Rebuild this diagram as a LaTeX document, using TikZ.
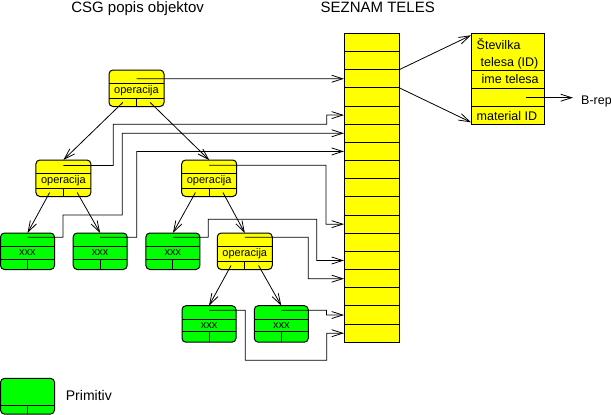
\documentclass[tikz,border=0pt]{standalone}
\usepackage{fontspec}
\setmainfont{Liberation Sans}
\usetikzlibrary{arrows.meta,calc}
\definecolor{yel}{RGB}{255,255,0}
\definecolor{grn}{RGB}{0,255,0}
\tikzset{
  box/.style={draw, line width=1pt, rounded corners=4pt, minimum width=55pt, minimum height=36.5pt, inner sep=0pt, outer sep=0pt},
  opbox/.style={box, fill=yel},
  primbox/.style={box, fill=grn, minimum width=54pt},
  inline/.style={line width=1pt},
  conn/.style={line width=0.8pt, -{Straight Barb[length=11pt,width=7pt]}},
  lbl/.style={inner sep=0pt, font=\fontsize{11}{13}\selectfont, anchor=base},
  big/.style={inner sep=0pt, font=\fontsize{15}{18}\selectfont},
  mid/.style={inner sep=0pt, font=\fontsize{12.5}{14}\selectfont, anchor=base west},
  rowbox/.style={draw, fill=yel, line width=1pt, minimum width=55.3pt, minimum height=18.176pt, inner sep=0pt, outer sep=0pt},
}
% name, center x, top y, pointer y
\newcommand{\opnode}[4]{%
  \node[opbox] (#1) at (#2,#3+18.25) {};
  \draw[inline] (#2-27.5,#3+13.4) -- (#2+27.5,#3+13.4);
  \draw[inline] (#2-27.5,#3+28.5) -- (#2+27.5,#3+28.5);
  \draw[inline] (#2,#3+28.5) -- (#2,#3+36.5);
  \node[lbl] (#1-t) at (#2,#3+23.2) {operacija};
  \coordinate (#1-p) at (#2,#4);
  \coordinate (#1-l) at (#2-13.75,#3+32.5);
  \coordinate (#1-r) at (#2+13.75,#3+32.5);
}
\newcommand{\primnode}[4]{%
  \node[primbox] (#1) at (#2,#3+18.25) {};
  \draw[inline] (#2-27,#3+13.5) -- (#2+27,#3+13.5);
  \draw[inline] (#2-27,#3+26) -- (#2+27,#3+26);
  \draw[inline] (#2,#3+26) -- (#2,#3+36.5);
  \node[lbl] (#1-t) at (#2,#3+22.5) {xxx};
  \coordinate (#1-p) at (#2,#4);
}
\begin{document}
\begin{tikzpicture}[x=1pt,y=-1pt]
\useasboundingbox (0,0) rectangle (611,415);
% titles
\node[big, anchor=base] (t1) at (137.6,12.5) {CSG popis objektov};
\node[big, anchor=base] (t2) at (377.7,12.5) {SEZNAM TELES};
% table
\foreach \i in {1,...,17} \node[rowbox] (r\i) at (371.65,{33.3+18.176*(\i-0.5)}) {};
% record
\node[draw, fill=yel, line width=1pt, minimum width=73.3pt, minimum height=91pt, inner sep=0pt, outer sep=0pt] (rec) at (507.65,78.8) {};
\draw[inline] (471,70.7) -- (544.3,70.7);
\draw[inline] (471,88.7) -- (544.3,88.7);
\draw[inline] (471,106.7) -- (544.3,106.7);
\node[mid] (f1) at (476.5,49.3) {Številka};
\node[mid] (f2) at (480.5,66) {telesa (ID)};
\node[mid] (f3) at (481.5,83.7) {ime telesa};
\node[mid] (f4) at (476.5,120) {material ID};
\node[mid] (brep) at (581,104) {B-rep};
\coordinate (bp) at (526,97.7);
\draw[conn, shorten >=8pt] (bp) -- (bp -| brep.west);
\draw[conn] (r3.north east) -- ([yshift=-2pt]rec.north west);
\draw[conn] (r3.south east) -- ([yshift=2pt]rec.south west);
% tree nodes
\opnode{op1}{136.5}{70}{78.74}
\opnode{op2L}{63.4}{160}{165.5}
\opnode{op2R}{209.2}{160}{165.2}
\opnode{op3}{244.8}{233}{237.3}
\primnode{x1}{27.5}{233}{237.3}
\primnode{x2}{100.2}{233}{237.3}
\primnode{x3}{172.9}{233}{237.3}
\primnode{x4}{209}{305.7}{310.3}
\primnode{x5}{281.3}{305.7}{310.3}
% tree edges
\draw[conn] (op1-l) -- (op2L.north);
\draw[conn] (op1-r) -- (op2R.north);
\draw[conn] (op2L-l) -- (x1.north);
\draw[conn] (op2L-r) -- (x2.north);
\draw[conn] (op2R-l) -- (x3.north);
\draw[conn] (op2R-r) -- (op3.north);
\draw[conn] (op3-l) -- (x4.north);
\draw[conn] (op3-r) -- (x5.north);
% pointers to table
\draw[conn] (op1-p) -- (r3.west);
\draw[conn] (op2L-p) -| (113.3,124.3) -| (326.7,115.09) -- (r5.west);
\draw[conn] (x1-p) -| (63,215) -| (122.3,133.27) -- (r6.west);
\draw[conn] (x2-p) -| (136.7,151.44) -- (r7.west);
\draw[conn] (op2R-p) -| (326,224.15) -- (r11.west);
\draw[conn] (x3-p) -| (208.3,219.3) -| (316.7,260.5) -- (r13.west);
\draw[conn] (op3-p) -| (308.3,278.68) -- (r14.west);
\draw[conn] (x5-p) -| (326.5,315.03) -- (r16.west);
\draw[conn] (x4-p) -| (245.3,360.3) -| (326.7,333.2) -- (r17.west);
% legend
\node[primbox, minimum height=35.7pt] (leg) at (27.5,396.2) {};
\draw[inline] (0.5,405) -- (54.5,405);
\draw[inline] (27.5,405) -- (27.5,414);
\node[inner sep=0pt, font=\fontsize{14}{16}\selectfont, anchor=base west] (legt) at (65.7,400) {Primitiv};
\end{tikzpicture}
\end{document}
